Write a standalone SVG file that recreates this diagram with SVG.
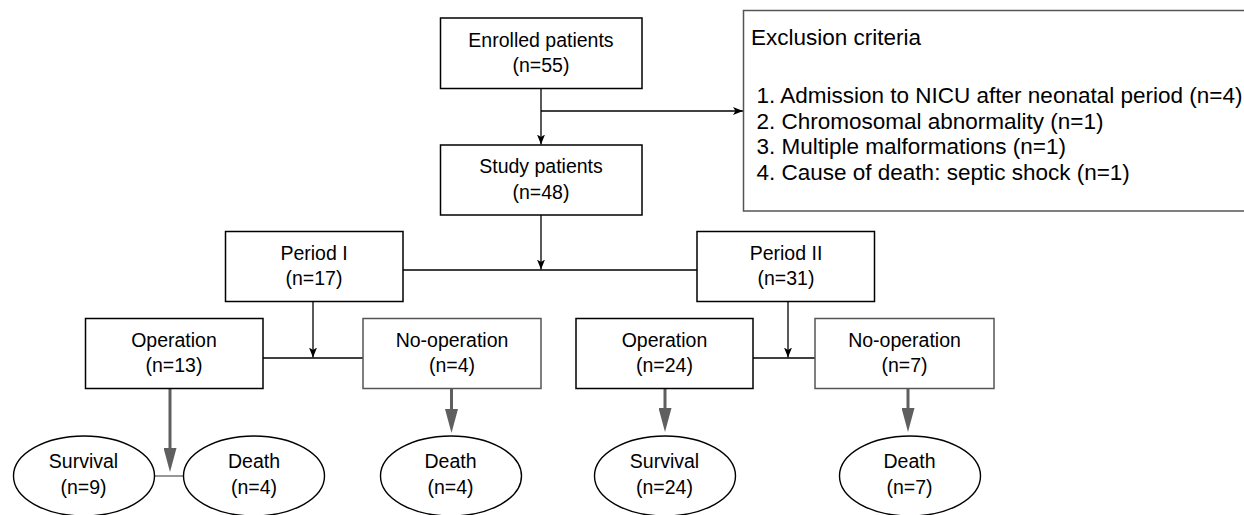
<svg xmlns="http://www.w3.org/2000/svg" width="1244" height="515" viewBox="0 0 1244 515">
<style>
  text { font-family: "Liberation Sans", Arial, sans-serif; fill: #000; }
  .t { font-size: 19.5px; text-anchor: middle; }
  .ex { font-size: 22.5px; }
  .box { fill: #fff; stroke: #000; stroke-width: 1.5; }
  .gbox { fill: #fff; stroke: #555; stroke-width: 1.5; }
  .ell { fill: #fff; stroke: #000; stroke-width: 1.4; }
  .ln { fill: none; stroke: #000; stroke-width: 1.3; }
  .gln { fill: none; stroke: #5f5f5f; stroke-width: 1.3; }
  .garr { fill: none; stroke: #5f5f5f; stroke-width: 3; }
</style>
<defs>
  <marker id="ah" viewBox="0 0 10 8" markerUnits="userSpaceOnUse" markerWidth="10" markerHeight="8" refX="10" refY="4" orient="auto">
    <path d="M0,0 L10,4 L0,8 L2.5,4 z" fill="#000"/>
  </marker>
  <marker id="gah" viewBox="0 0 24 13" markerUnits="userSpaceOnUse" markerWidth="24" markerHeight="13" refX="0" refY="6.5" orient="auto">
    <path d="M0,0 L24,6.5 L0,13 z" fill="#5f5f5f"/>
  </marker>
</defs>

<g id="connectors">
  <path class="ln" d="M541,88.5 V144.5" marker-end="url(#ah)"/>
  <path class="ln" d="M541,111 H743" marker-end="url(#ah)"/>
  <path class="ln" d="M541,215 V269.5" marker-end="url(#ah)"/>
  <path class="ln" d="M403,270 H697"/>
  <path class="ln" d="M313,302 V357.5" marker-end="url(#ah)"/>
  <path class="ln" d="M263,358 H363"/>
  <path class="ln" d="M788,302 V357.5" marker-end="url(#ah)"/>
  <path class="ln" d="M753,358 H815"/>
  <path class="gln" d="M154.5,476 H183.5"/>
  <path class="garr" d="M170,389 V448" marker-end="url(#gah)"/>
  <path class="garr" d="M451.5,389 V409" marker-end="url(#gah)"/>
  <path class="garr" d="M665,389 V408" marker-end="url(#gah)"/>
  <path class="garr" d="M908,389 V408" marker-end="url(#gah)"/>
</g>

<g id="enrolled">
  <rect class="box" x="440.5" y="18" width="201.5" height="70.5"/>
  <text class="t" x="541" y="46.5">Enrolled patients</text>
  <text class="t" x="541" y="72">(n=55)</text>
</g>

<g id="exclusion">
  <rect class="gbox" x="743.5" y="10.5" width="510" height="200.5"/>
  <text class="ex" x="751" y="45">Exclusion criteria</text>
  <text class="ex" x="756.5" y="103">1. Admission to NICU after neonatal period (n=4)</text>
  <text class="ex" x="756.5" y="128.5">2. Chromosomal abnormality (n=1)</text>
  <text class="ex" x="756.5" y="154">3. Multiple malformations (n=1)</text>
  <text class="ex" x="756.5" y="179.5">4. Cause of death: septic shock (n=1)</text>
</g>

<g id="study">
  <rect class="box" x="440.5" y="145" width="201.5" height="70"/>
  <text class="t" x="541" y="173">Study patients</text>
  <text class="t" x="541" y="199">(n=48)</text>
</g>

<g id="period1">
  <rect class="box" x="225.5" y="231.5" width="177.5" height="70"/>
  <text class="t" x="314" y="259.5">Period I</text>
  <text class="t" x="314" y="285">(n=17)</text>
</g>

<g id="period2">
  <rect class="box" x="697" y="231.5" width="177.5" height="70"/>
  <text class="t" x="786" y="259.5">Period II</text>
  <text class="t" x="786" y="285">(n=31)</text>
</g>

<g id="op1">
  <rect class="box" x="85.5" y="318.5" width="177.5" height="70"/>
  <text class="t" x="174" y="346.5">Operation</text>
  <text class="t" x="174" y="372">(n=13)</text>
</g>

<g id="noop1">
  <rect class="gbox" x="363" y="318.5" width="178" height="70"/>
  <text class="t" x="452" y="346.5">No-operation</text>
  <text class="t" x="452" y="372">(n=4)</text>
</g>

<g id="op2">
  <rect class="box" x="576" y="318.5" width="177" height="70"/>
  <text class="t" x="664.5" y="346.5">Operation</text>
  <text class="t" x="664.5" y="372">(n=24)</text>
</g>

<g id="noop2">
  <rect class="gbox" x="815" y="318.5" width="179" height="70"/>
  <text class="t" x="904.5" y="346.5">No-operation</text>
  <text class="t" x="904.5" y="372">(n=7)</text>
</g>

<g id="survival1">
  <ellipse class="ell" cx="84" cy="476" rx="70.5" ry="40"/>
  <text class="t" x="83.5" y="468">Survival</text>
  <text class="t" x="83.5" y="494">(n=9)</text>
</g>

<g id="death1">
  <ellipse class="ell" cx="254" cy="476" rx="70.5" ry="40"/>
  <text class="t" x="254" y="468">Death</text>
  <text class="t" x="254" y="494">(n=4)</text>
</g>

<g id="death1b">
  <ellipse class="ell" cx="451" cy="476" rx="70.5" ry="40"/>
  <text class="t" x="450.5" y="468">Death</text>
  <text class="t" x="450.5" y="494">(n=4)</text>
</g>

<g id="survival2">
  <ellipse class="ell" cx="665" cy="476" rx="70.5" ry="40"/>
  <text class="t" x="664.5" y="468">Survival</text>
  <text class="t" x="664.5" y="494">(n=24)</text>
</g>

<g id="death2">
  <ellipse class="ell" cx="910" cy="476" rx="70.5" ry="40"/>
  <text class="t" x="909.5" y="468">Death</text>
  <text class="t" x="909.5" y="494">(n=7)</text>
</g>
</svg>
